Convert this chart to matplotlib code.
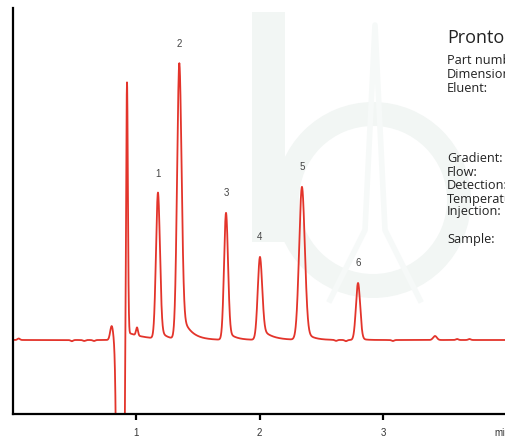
import matplotlib

matplotlib.use("Agg")
import matplotlib.pyplot as plt
import numpy as np
from matplotlib.patches import Rectangle, Wedge

plt.rcParams["font.family"] = ["Liberation Sans", "DejaVu Sans"]

# Peak table: retention time (min), height (mAU), width sigma (min),
# tail fraction and tail decay constant (min)
peak_times = [0.803, 0.873, 0.927, 1.008, 1.178, 1.351, 1.729, 2.004, 2.344, 2.798, 3.421]
peak_heights = [14, -1300, 262, 8, 146, 276, 127, 83, 153, 57, 4]
peak_sigmas = [0.012, 0.016, 0.007, 0.008, 0.016, 0.018, 0.016, 0.018, 0.023, 0.017, 0.015]
tail_fracs = [0.0, 0.0, 0.03, 0.0, 0.08, 0.12, 0.08, 0.16, 0.08, 0.04, 0.0]
tail_taus = [0.0, 0.0, 0.15, 0.0, 0.05, 0.07, 0.06, 0.08, 0.06, 0.04, 0.0]

# numbered analytes: index into the peak table
labelled = {"1": 4, "2": 5, "3": 6, "4": 7, "5": 8, "6": 9}

# small baseline wiggles: time (min), height (mAU)
wiggle_times = [0.05, 0.48, 0.58, 0.66, 2.62, 2.70, 3.08, 3.60, 3.70]
wiggle_heights = [1.5, -1.2, -1.0, -1.0, -1.0, -1.2, -1.0, 1.0, 1.0]

x_ticks = [1, 2, 3]
info_lines = [
    ("Part number:", 61), ("Dimensions:", 74), ("Eluent:", 88),
    ("Gradient:", 159), ("Flow:", 172), ("Detection:", 186),
    ("Temperature:", 199), ("Injection:", 212), ("Sample:", 239),
]


def peak_shape(t, t0, h, s, frac, tau):
    d = t - t0
    g = np.exp(-0.5 * (d / s) ** 2)
    if frac > 0:
        right = (1 - frac) * g + frac * np.exp(-np.clip(d, 0, None) / tau)
        g = np.where(d < 0, g, right)
    return h * g


t = np.linspace(0, 4.05, 8000)
signal = np.zeros_like(t)
for t0, h, s, f, tau in zip(peak_times, peak_heights, peak_sigmas, tail_fracs, tail_taus):
    signal += peak_shape(t, t0, h, s, f, tau)
for t0, h in zip(wiggle_times, wiggle_heights):
    signal += peak_shape(t, t0, h, 0.01, 0, 0)

W, H = 505, 438
fig = plt.figure(figsize=(W / 100, H / 100), dpi=100)

# faint logo behind the trace, drawn in pixel space
bg = fig.add_axes([0, 0, 1, 1], zorder=0)
bg.set_xlim(0, W)
bg.set_ylim(H, 0)
bg.axis("off")
logo = "#f2f6f4"
bg.add_patch(Rectangle((252, 12), 33, 230, color=logo, lw=0))
bg.add_patch(Wedge((373, 200), 98, 0, 360, width=24, color=logo, lw=0))
bg.plot([330, 365, 375, 385, 420], [300, 230, 25, 230, 300], color="#f6f9f8", lw=4)

ax = fig.add_axes([12.5 / W, 24 / H, 1 - 12.5 / W, 406 / H], zorder=1)
ax.patch.set_visible(False)
ax.plot(t, signal, color="#e3342b", lw=1.3)
ax.set_xlim(0, (W - 12.5) / 123.5)
ax.set_ylim(-74, 332)

for name, i in labelled.items():
    ax.annotate(name, (peak_times[i], peak_heights[i]), xytext=(0, 11),
                textcoords="offset points", ha="center", va="bottom",
                fontsize=7, color="#444444")

for side in ("top", "right"):
    ax.spines[side].set_visible(False)
for side in ("left", "bottom"):
    ax.spines[side].set_linewidth(1.6)
ax.set_yticks([])
ax.set_xticks(x_ticks)
ax.set_xticklabels([str(v) for v in x_ticks])
ax.tick_params(axis="x", length=4, width=1.6, pad=6, labelsize=7, labelcolor="#333333")
ax.text(3.9, -0.035, "min", transform=ax.get_xaxis_transform(), ha="left", va="top",
        fontsize=7, color="#333333")

fig.text(447 / W, 1 - 38 / H, "ProntoSIL", fontsize=13, va="center", ha="left",
         color="#222222", family=["Open Sans", "DejaVu Sans"])
for label, py in info_lines:
    fig.text(447 / W, 1 - py / H, label, fontsize=9.2, va="center", ha="left",
             color="#222222", family=["Open Sans", "DejaVu Sans"])

fig.savefig("out.png", dpi=100)
